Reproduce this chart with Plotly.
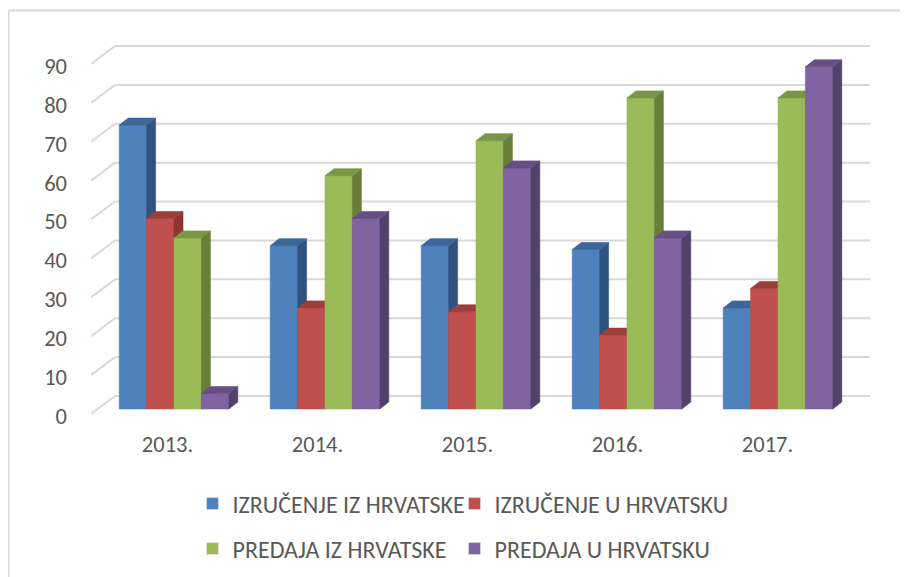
import plotly.graph_objects as go

# ---------------- data ----------------
years = ["2013.", "2014.", "2015.", "2016.", "2017."]
series_names = ["IZRUČENJE IZ HRVATSKE", "IZRUČENJE U HRVATSKU",
                "PREDAJA IZ HRVATSKE", "PREDAJA U HRVATSKU"]
izrucenje_iz = [73, 42, 42, 41, 26]
izrucenje_u = [49, 26, 25, 19, 31]
predaja_iz = [44, 60, 69, 80, 80]
predaja_u = [4, 49, 62, 44, 88]
y_ticks = [0, 10, 20, 30, 40, 50, 60, 70, 80, 90]

series_values = [izrucenje_iz, izrucenje_u, predaja_iz, predaja_u]

# ---------------- styling / geometry ----------------
front_colors = ["#4F81BD", "#C0504D", "#9BBB59", "#8064A2"]
side_colors = ["#30527F", "#8A3633", "#687F37", "#53406B"]
top_colors = ["#3D6699", "#9E3E3B", "#7B9646", "#654F84"]
grid_color = "#D9D9D9"
text_color = "#595959"
FONT = "Calibri, Carlito, Lato, sans-serif"
AXIS_FONT_SIZE = 22.5
LEGEND_FONT_SIZE = 24

W, H = 908, 577
OFF = 8                                # page body margin of the html page
L, R, T, B = 91, 870, 40, 420          # plot area in page px
PPU = 3.889                            # px per value unit
GROUP_PX, GROUP0_PX = 151.0, 174.0     # bar-group spacing / first group centre
BASE_PX = 409.0                        # bar bottom (front face)
BAR_W_PX = 27.4
DEPTH_X_PX, DEPTH_Y_PX = 9.0, 7.0      # bar depth
FLOOR_FRONT_PX, FLOOR_BACK_PX = 414.0, 396.0
BACK_LEFT_PX = 115.0
LABEL0_PX = 416.0
LABEL_X0_PX, LABEL_STEP_PX = 167.5, 150.0
# legend item positions (page px): left of item, vertical centre
LEGEND_POS = [(192.5, 504), (454.5, 504), (192.5, 549), (454.5, 549)]


def xd(px):
    return (px - GROUP0_PX) / GROUP_PX


def yd(py):
    return (BASE_PX - py) / PPU


bw = BAR_W_PX / GROUP_PX
dx = DEPTH_X_PX / GROUP_PX
dy = DEPTH_Y_PX / PPU

fig = go.Figure()

nser = len(series_values)
for k, vals in enumerate(series_values):
    fx, fy, sx, sy, tx, ty = [], [], [], [], [], []
    for i, v in enumerate(vals):
        c = i + (k - (nser - 1) / 2) * bw
        xl, xr = c - bw / 2, c + bw / 2
        fx += [xl, xr, xr, xl, xl, None]
        fy += [0, 0, v, v, 0, None]
        sx += [xr, xr + dx, xr + dx, xr, xr, None]
        sy += [0, dy, v + dy, v, 0, None]
        tx += [xl, xr, xr + dx, xl + dx, xl, None]
        ty += [v, v, v + dy, v + dy, v, None]
    for xs, ys, col in ((fx, fy, front_colors[k]), (sx, sy, side_colors[k]), (tx, ty, top_colors[k])):
        fig.add_trace(go.Scatter(x=xs, y=ys, mode="lines", fill="toself",
                                 fillcolor=col, line=dict(width=0.6, color=col),
                                 hoverinfo="skip", showlegend=False))

# legend entries (one legend per item, laid out as a 2x2 grid)
legend_ids = ["legend", "legend2", "legend3", "legend4"]
for k, name in enumerate(series_names):
    fig.add_trace(go.Bar(x=[None], y=[None], name=name,
                         marker=dict(color=front_colors[k]),
                         legend=legend_ids[k]))

# invisible trace on label axes
fig.add_trace(go.Scatter(x=[None], y=[None], xaxis="x2", yaxis="y2",
                         showlegend=False, hoverinfo="skip"))

# gridlines (back wall + left floor diagonals)
shapes = []
for v in y_ticks:
    shapes.append(dict(type="line", xref="x", yref="y", layer="below",
                       x0=xd(BACK_LEFT_PX), x1=xd(R),
                       y0=v + yd(FLOOR_BACK_PX), y1=v + yd(FLOOR_BACK_PX),
                       line=dict(color=grid_color, width=2)))
    shapes.append(dict(type="line", xref="x", yref="y", layer="below",
                       x0=xd(L), x1=xd(BACK_LEFT_PX),
                       y0=v + yd(FLOOR_FRONT_PX), y1=v + yd(FLOOR_BACK_PX),
                       line=dict(color=grid_color, width=2)))

# outer frame (left and top edges)
pw, ph = R - L, B - T
fx0 = (8.5 - L) / pw
fy0 = (B - 10.5) / ph
shapes.append(dict(type="line", xref="paper", yref="paper", x0=fx0, x1=fx0,
                   y0=fy0, y1=(B - 620) / ph, line=dict(color=grid_color, width=2)))
shapes.append(dict(type="line", xref="paper", yref="paper", x0=fx0, x1=(960 - L) / pw,
                   y0=fy0, y1=fy0, line=dict(color=grid_color, width=2)))

legend_common = dict(orientation="h", xref="container", yref="container",
                     xanchor="left", yanchor="middle",
                     font=dict(family=FONT, size=LEGEND_FONT_SIZE, color=text_color),
                     bgcolor="rgba(0,0,0,0)", itemclick=False, itemdoubleclick=False)
legend_layout = {}
for lid, (px, py) in zip(legend_ids, LEGEND_POS):
    legend_layout[lid] = dict(legend_common, x=(px - OFF) / W, y=1 - (py - OFF) / H)

fig.update_layout(
    width=W, height=H,
    margin=dict(l=L - OFF, r=W - R + OFF, t=T - OFF, b=H - B + OFF, pad=0),
    paper_bgcolor="white", plot_bgcolor="rgba(0,0,0,0)",
    font=dict(family=FONT, size=AXIS_FONT_SIZE, color=text_color),
    shapes=shapes,
    xaxis=dict(range=[xd(L), xd(R)], showgrid=False, zeroline=False,
               showticklabels=False, ticks="", showline=False, fixedrange=True),
    yaxis=dict(range=[yd(B), yd(T)], showgrid=False, zeroline=False,
               showticklabels=False, ticks="", showline=False, fixedrange=True),
    xaxis2=dict(overlaying="x", anchor="y2", side="bottom",
                range=[(L - LABEL_X0_PX) / LABEL_STEP_PX, (R - LABEL_X0_PX) / LABEL_STEP_PX],
                tickmode="array", tickvals=list(range(len(years))), ticktext=years,
                showgrid=False, zeroline=False, ticks="", showline=False,
                ticklabelstandoff=8),
    yaxis2=dict(overlaying="y", side="left",
                range=[(LABEL0_PX - B) / PPU, (LABEL0_PX - T) / PPU],
                tickmode="array", tickvals=y_ticks,
                showgrid=False, zeroline=False, ticks="", showline=False,
                ticklabelstandoff=23),
    showlegend=True,
    **legend_layout,
)

fig.write_html("out.html")
